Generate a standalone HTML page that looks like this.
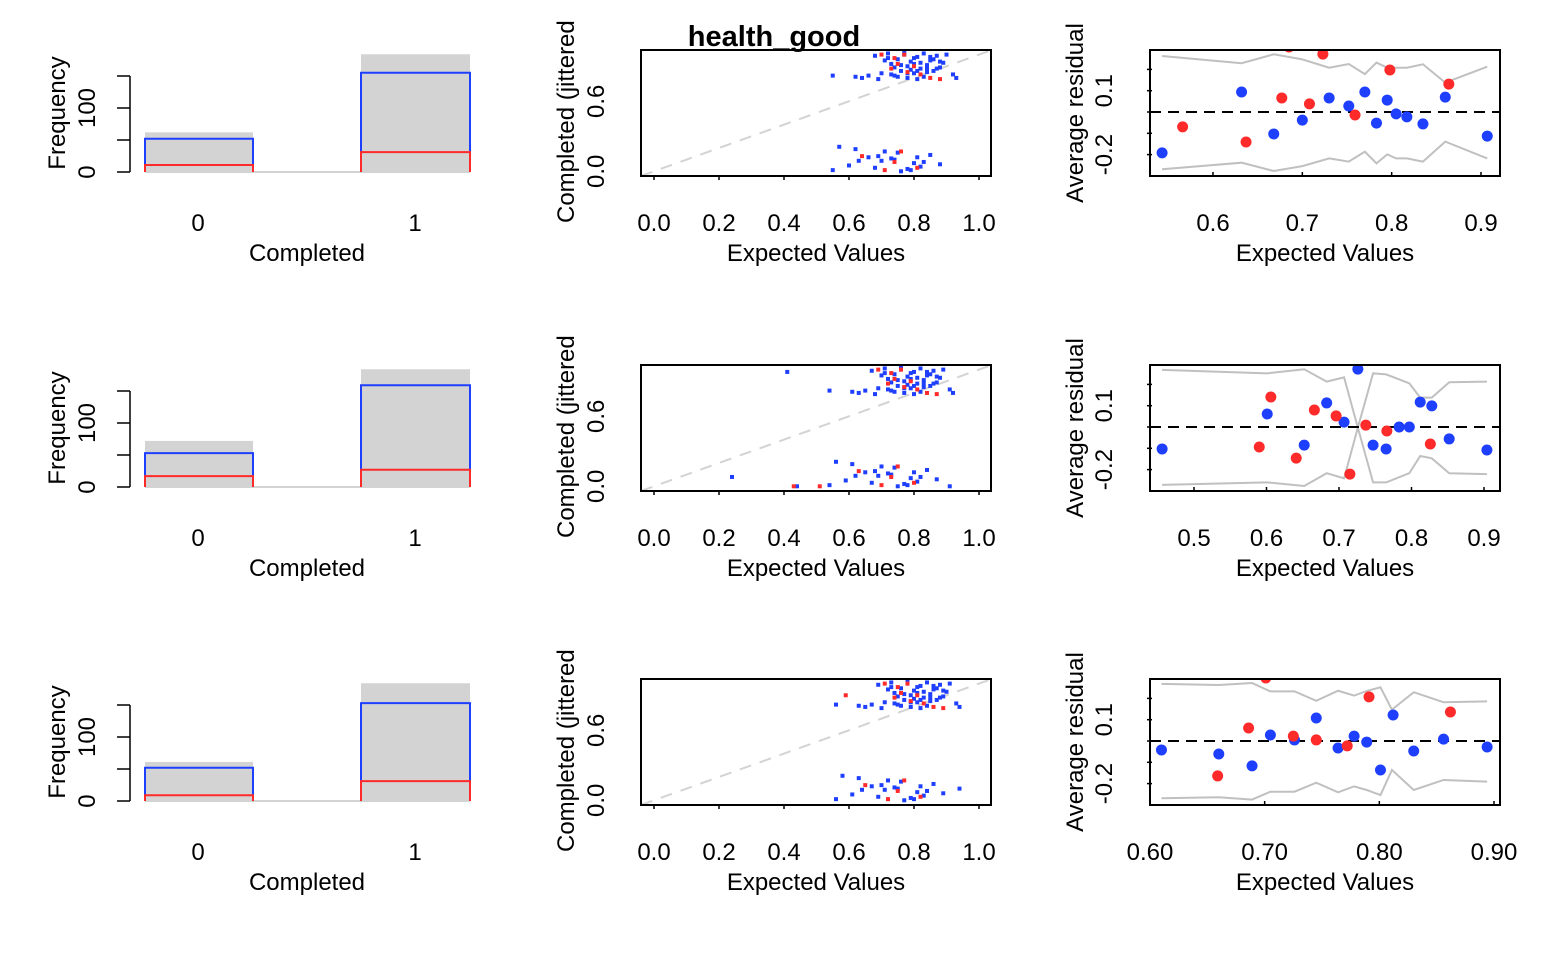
<!DOCTYPE html>
<html><head><meta charset="utf-8"><style>
html,body{margin:0;padding:0;background:#fff;}
svg{display:block;font-family:"Liberation Sans",Arial,sans-serif;}
</style></head><body>
<svg id="fig" width="1554" height="956" viewBox="0 0 1554 956" xmlns="http://www.w3.org/2000/svg">
<text x="774" y="46" font-size="29" font-weight="bold" text-anchor="middle">health_good</text>
</svg>
<script>
// ---------- data ----------
const rowOffsets = [0, 315, 629];
const histGray = [[62,184],[72,184],[61,184]];
const histBlue = [[52,155],[53,159],[52,153]];
const histRed  = [[11,31],[17,27],[9,31]];
const histTicks = [0,50,100,150];

// scatter (jittered)
const upBX = [0.68,0.70,0.72,0.73,0.74,0.75,0.76,0.77,0.78,0.79,0.80,0.81,0.82,0.83,0.84,0.85,0.86,0.87,0.88,0.89,0.90,0.62,0.64,0.66,0.69,0.71,0.75,0.78,0.81,0.84,0.87,0.92,0.93,0.55,0.80,0.83,0.77,0.72,0.86,0.79,0.76,0.82,0.74,0.85,0.88,0.81,0.78,0.84,0.73,0.80];
const upBY = [0.99,0.84,1.01,0.92,0.82,0.96,0.86,1.00,0.90,0.94,0.84,0.98,0.88,1.01,0.91,0.95,0.86,0.99,0.89,0.93,1.00,0.81,0.80,0.82,0.79,0.95,0.81,0.80,0.79,0.85,0.88,0.83,0.80,0.82,0.92,0.81,1.02,0.97,0.96,0.87,0.91,0.93,0.89,0.98,0.94,0.86,0.84,0.88,0.83,0.97];
const upRX = [0.70,0.73,0.75,0.78,0.82,0.85,0.88,0.74,0.77,0.80];
const upRY = [1.00,0.88,0.92,0.85,0.83,0.80,0.79,0.97,1.00,0.90];
const loBX = [0.55,0.60,0.62,0.66,0.68,0.70,0.73,0.75,0.78,0.80,0.82,0.85,0.57,0.69,0.79,0.88,0.74,0.71,0.83,0.76,0.63,0.81];
const loBY = [0.01,0.05,0.19,0.12,0.03,0.09,0.11,0.16,0.02,0.07,0.04,0.14,0.21,0.13,0.01,0.06,0.10,0.17,0.08,0.00,0.09,0.12];
const loRX = [0.64,0.76,0.71,0.74,0.81];
const loRY = [0.13,0.17,0.01,0.08,0.03];
const scatterShift = [0, -0.01, 0.01];
const extraBX = [[],[0.42,0.25,0.45,0.92],[0.93]];
const extraBY = [[],[0.98,0.08,0.0,0.0],[0.1]];
const extraRX = [[],[0.44,0.52],[0.58]];
const extraRY = [[],[0.0,0.0],[0.9]];
const scatterTicks = [0,0.2,0.4,0.6,0.8,1.0];

// binned residuals
const resXDomain = [[0.6,0.9,1213,1481],[0.5,0.9,1194,1484],[0.6,0.9,1150,1494]];
const resXTicks = [["0.6","0.7","0.8","0.9"],["0.5","0.6","0.7","0.8","0.9"],["0.60","0.70","0.80","0.90"]];
const resBlueX = [
 [0.543,0.632,0.668,0.700,0.730,0.752,0.770,0.783,0.795,0.805,0.817,0.835,0.860,0.907],
 [0.456,0.601,0.652,0.683,0.707,0.726,0.747,0.765,0.783,0.797,0.812,0.828,0.852,0.904],
 [0.610,0.660,0.689,0.705,0.726,0.745,0.764,0.778,0.789,0.801,0.812,0.830,0.856,0.894]];
const resBlueY = [
 [-0.192,0.094,-0.103,-0.038,0.066,0.028,0.094,-0.052,0.056,-0.009,-0.023,-0.056,0.070,-0.113],
 [-0.103,0.061,-0.085,0.113,0.023,0.272,-0.085,-0.103,0,0,0.117,0.099,-0.056,-0.108],
 [-0.042,-0.061,-0.117,0.028,0.005,0.108,-0.033,0.023,-0.005,-0.136,0.122,-0.047,0.009,-0.028]];
const resRedX = [
 [0.566,0.637,0.677,0.708,0.723,0.685,0.759,0.798,0.864],
 [0.606,0.590,0.641,0.666,0.696,0.715,0.737,0.766,0.826],
 [0.659,0.686,0.701,0.725,0.745,0.772,0.791,0.862]];
const resRedY = [
 [-0.070,-0.141,0.066,0.038,0.272,0.305,-0.014,0.197,0.131],
 [0.141,-0.094,-0.146,0.080,0.052,-0.221,0.009,-0.019,-0.080],
 [-0.164,0.061,0.296,0.023,0.005,-0.023,0.207,0.136]];
const bandX = [
 [0.543,0.632,0.668,0.700,0.730,0.752,0.770,0.783,0.795,0.805,0.817,0.835,0.860,0.907],
 [0.456,0.601,0.652,0.683,0.707,0.726,0.747,0.765,0.797,0.812,0.828,0.852,0.904],
 [0.610,0.660,0.689,0.705,0.726,0.745,0.764,0.778,0.789,0.801,0.811,0.830,0.856,0.894]];
const bandUp = [
 [0.263,0.229,0.271,0.247,0.208,0.225,0.178,0.232,0.208,0.208,0.208,0.224,0.138,0.213],
 [0.268,0.252,0.271,0.213,0.233,-0.003,0.252,0.247,0.205,0.138,0.138,0.210,0.213],
 [0.268,0.263,0.272,0.233,0.233,0.189,0.236,0.213,0.235,0.252,0.147,0.229,0.182,0.186]];
const bandLo = [
 [-0.269,-0.238,-0.277,-0.254,-0.218,-0.233,-0.186,-0.241,-0.199,-0.218,-0.218,-0.233,-0.139,-0.218],
 [-0.272,-0.260,-0.277,-0.217,-0.241,-0.003,-0.260,-0.260,-0.217,-0.136,-0.147,-0.217,-0.221],
 [-0.269,-0.264,-0.275,-0.238,-0.238,-0.196,-0.241,-0.213,-0.230,-0.254,-0.136,-0.230,-0.183,-0.191]];
const resYTicks = [0.2,0.1,0,-0.1,-0.2];

// ---------- helpers ----------
const NS = "http://www.w3.org/2000/svg";
const svg = document.getElementById('fig');
const FS = 24;
function mk(tag, attrs, parent){
  const e = document.createElementNS(NS, tag);
  for (const k in attrs) e.setAttribute(k, attrs[k]);
  (parent||svg).appendChild(e); return e;
}
function txt(s, x, y, size, anchor, rot, parent){
  const t = mk('text', {x:x, y:y, 'font-size':size, 'text-anchor':anchor||'middle', fill:'#000'}, parent);
  if (rot) t.setAttribute('transform', `rotate(-90 ${x} ${y})`);
  t.textContent = s; return t;
}

rowOffsets.forEach((dy, r) => {
  // ---- histogram ----
  const g = mk('g', {});
  
  
  const base = 172 + dy;
  const hy = v => base - 0.64 * v;
  const bx = [[145,253],[361,470]];
  mk('line', {x1:145, x2:470, y1:base, y2:base, stroke:'#d3d3d3', 'stroke-width':2}, g);
  for (let i = 0; i < 2; i++) {
    const gb = mk('rect', {x:bx[i][0], y:hy(histGray[r][i]), width:bx[i][1]-bx[i][0], height:base-hy(histGray[r][i]), fill:'#d3d3d3'}, g);
    
    
    const bb = mk('polyline', {points:`${bx[i][0]},${base} ${bx[i][0]},${hy(histBlue[r][i])} ${bx[i][1]},${hy(histBlue[r][i])} ${bx[i][1]},${base}`, fill:'none', stroke:'#1f3fff', 'stroke-width':2}, g);
    
    
    const rb = mk('polyline', {points:`${bx[i][0]},${base} ${bx[i][0]},${hy(histRed[r][i])} ${bx[i][1]},${hy(histRed[r][i])} ${bx[i][1]},${base}`, fill:'none', stroke:'#ff2a2a', 'stroke-width':2}, g);
    
    
  }
  mk('line', {x1:130, x2:130, y1:hy(150), y2:base, stroke:'#000', 'stroke-width':1.5}, g);
  histTicks.forEach(t => mk('line', {x1:117, x2:130, y1:hy(t), y2:hy(t), stroke:'#000', 'stroke-width':1.5}, g));
  txt('0', 95, hy(0), FS, 'middle', true, g);
  txt('100', 95, hy(100), FS, 'middle', true, g);
  txt('Frequency', 65, 113+dy, FS, 'middle', true, g);
  txt('0', 198, 231+dy, FS, 'middle', false, g);
  txt('1', 415, 231+dy, FS, 'middle', false, g);
  txt('Completed', 307, 261+dy, FS, 'middle', false, g);

  // ---- scatter ----
  const s = mk('g', {});
  
  
  const sx = v => 654 + 325 * v;
  const sy = v => 171.3 + dy - 116.7 * v;
  mk('line', {x1:sx(-0.04), y1:sy(-0.04), x2:sx(1.04), y2:sy(1.04), stroke:'#d3d3d3', 'stroke-width':2, 'stroke-dasharray':'12,9'}, s);
  const sh = scatterShift[r];
  const pts = (xs, ys, col, nm) => xs.forEach((x,i) => {
    const p = mk('rect', {x:sx(x+sh)-2, y:sy(ys[i])-2, width:4, height:4, fill:col}, s);
    
    
  });
  pts(upBX, upBY, '#1f3fff', 'point-blue');
  pts(loBX, loBY, '#1f3fff', 'point-blue');
  pts(extraBX[r], extraBY[r], '#1f3fff', 'point-blue');
  pts(upRX, upRY, '#ff2a2a', 'point-red');
  pts(loRX, loRY, '#ff2a2a', 'point-red');
  pts(extraRX[r], extraRY[r], '#ff2a2a', 'point-red');
  mk('rect', {x:641, y:50+dy, width:350, height:126, fill:'none', stroke:'#000', 'stroke-width':2}, s);
  scatterTicks.forEach(t => {
    mk('line', {x1:sx(t), x2:sx(t), y1:176+dy, y2:180+dy, stroke:'#000', 'stroke-width':1.5}, s);
    txt(t.toFixed(1), sx(t), 231+dy, FS, 'middle', false, s);
  });
  txt('0.0', 604, sy(0), FS, 'middle', true, s);
  txt('0.6', 604, sy(0.6), FS, 'middle', true, s);
  const cp = mk('clipPath', {id:'cp'+r}, s);
  mk('rect', {x:540, y:18+dy, width:60, height:240}, cp);
  const cg = mk('g', {'clip-path':`url(#cp${r})`}, s);
  txt('Completed (jittered values)', 574, 223+dy, FS, 'start', true, cg);
  txt('Expected Values', 816, 261+dy, FS, 'middle', false, s);

  // ---- binned residual ----
  const b = mk('g', {});
  
  
  const [d0, d1, p0, p1] = resXDomain[r];
  const rx = v => p0 + (v - d0) * (p1 - p0) / (d1 - d0);
  const ry = v => 112 + dy - 213 * v;
  const cpb = mk('clipPath', {id:'cb'+r}, b);
  mk('rect', {x:1150, y:50+dy, width:350, height:126}, cpb);
  const inner = mk('g', {'clip-path':`url(#cb${r})`}, b);
  mk('polyline', {points: bandX[r].map((x,i)=>`${rx(x)},${ry(bandUp[r][i])}`).join(' '), fill:'none', stroke:'#c0c0c0', 'stroke-width':2}, inner);
  mk('polyline', {points: bandX[r].map((x,i)=>`${rx(x)},${ry(bandLo[r][i])}`).join(' '), fill:'none', stroke:'#c0c0c0', 'stroke-width':2}, inner);
  mk('line', {x1:1150, x2:1500, y1:ry(0), y2:ry(0), stroke:'#000', 'stroke-width':2, 'stroke-dasharray':'11,7'}, inner);
  resBlueX[r].forEach((x,i) => {
    const c = mk('circle', {cx:rx(x), cy:ry(resBlueY[r][i]), r:5.5, fill:'#1f3fff'}, inner);
    
    
  });
  resRedX[r].forEach((x,i) => {
    const c = mk('circle', {cx:rx(x), cy:ry(resRedY[r][i]), r:5.5, fill:'#ff2a2a'}, inner);
    
    
  });
  mk('rect', {x:1150, y:50+dy, width:350, height:126, fill:'none', stroke:'#000', 'stroke-width':2}, b);
  resYTicks.forEach(t => mk('line', {x1:1147, x2:1152, y1:ry(t), y2:ry(t), stroke:'#000', 'stroke-width':1.5}, b));
  txt('0.1', 1112, ry(0.1), FS, 'middle', true, b);
  txt('-0.2', 1112, ry(-0.2), FS, 'middle', true, b);
  txt('Average residual', 1083, 113+dy, FS, 'middle', true, b);
  resXTicks[r].forEach(t => {
    const v = parseFloat(t);
    mk('line', {x1:rx(v), x2:rx(v), y1:172+dy, y2:177+dy, stroke:'#000', 'stroke-width':1.5}, b);
    txt(t, rx(v), 231+dy, FS, 'middle', false, b);
  });
  txt('Expected Values', 1325, 261+dy, FS, 'middle', false, b);
});
</script>
</body></html>
